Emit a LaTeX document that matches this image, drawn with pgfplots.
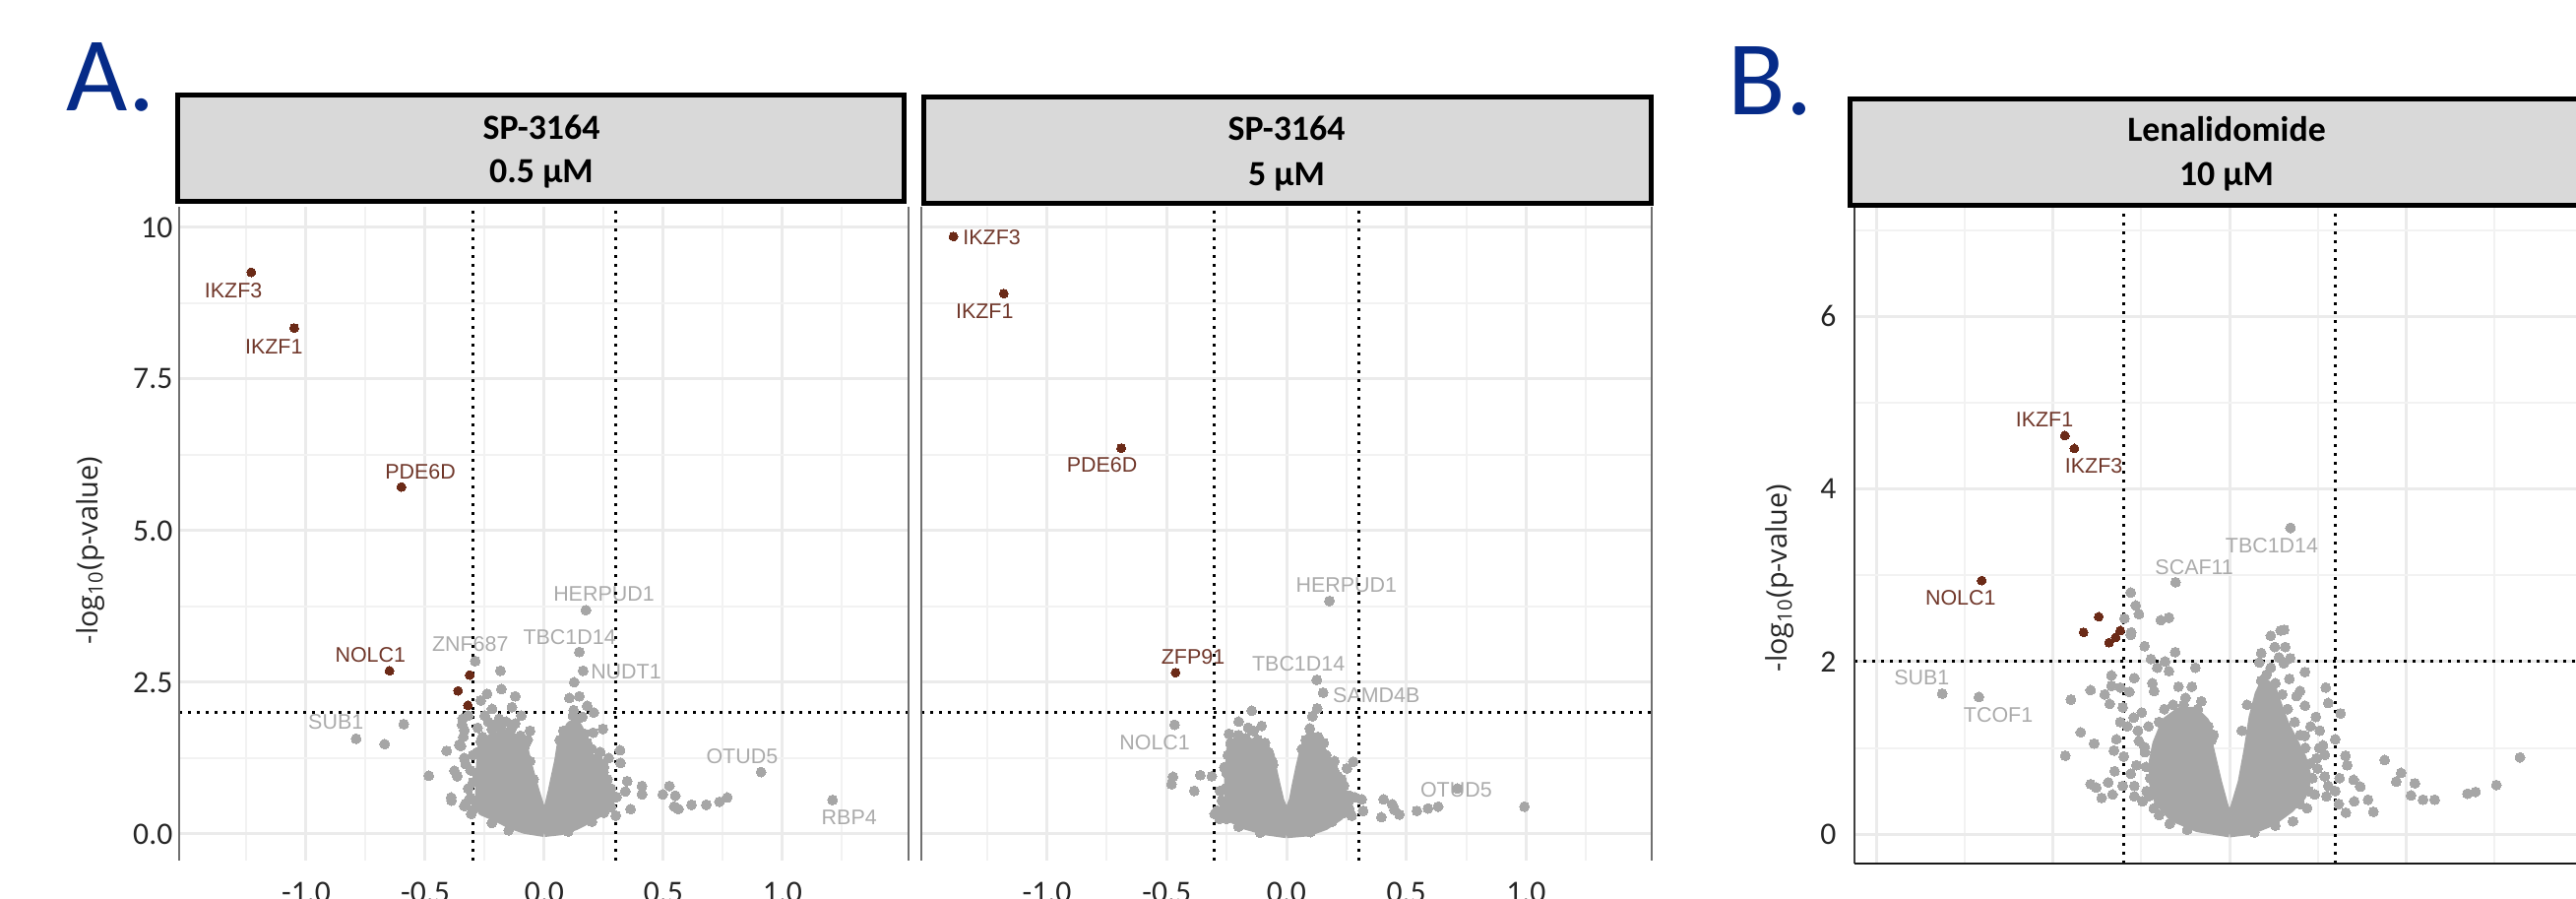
\documentclass[border=0pt]{standalone}
\usepackage{fontspec}
\setmainfont{Carlito}
\newfontfamily\arialf{Liberation Sans}
\newfontfamily\opensans{Open Sans}
\usepackage{pgfplots}
\pgfplotsset{compat=1.18}
\definecolor{ptgray}{HTML}{A6A6A6}
\definecolor{ptbrown}{HTML}{6B2A17}
\definecolor{lbbrown}{HTML}{70372A}
\definecolor{lbgray}{HTML}{ABABAB}
\definecolor{gridmaj}{HTML}{EBEBEB}
\definecolor{gridmin}{HTML}{F2F2F2}
\definecolor{hdrgray}{HTML}{D9D9D9}
\definecolor{letterblue}{HTML}{062B88}
\definecolor{bordergray}{HTML}{707070}
\tikzset{
 dotl/.style={black, line width=0.3mm, dash pattern=on 0.3mm off 0.6mm},
 lb/.style={font=\arialf\fontsize{6.1}{7}\selectfont, text=lbbrown, inner sep=0pt},
 lg/.style={font=\arialf\fontsize{6.1}{7}\selectfont, text=lbgray, inner sep=0pt},
}
\pgfplotsset{
 volc/.style={scale only axis, axis line style={draw=none}, major tick length=0pt, minor tick length=0pt,
   grid=both, major grid style={line width=0.3mm, gridmaj}, minor grid style={line width=0.2mm, gridmin},
   xtick={-1,-0.5,0,0.5,1}, xticklabels={-1.0,-0.5,0.0,0.5,1.0},
   minor xtick={-1.25,-0.75,-0.25,0.25,0.75,1.25},
   ticklabel style={font=\fontsize{9}{10}\selectfont, text=black!85, inner sep=0pt},
   xticklabel style={anchor=north, yshift=-2.1mm},
   yticklabel style={anchor=east, xshift=-0.6mm},
   clip=false, /pgf/number format/assume math mode=true},
 gmark/.style={only marks, color=ptgray, mark=*, mark size=0.5mm, mark options={solid, fill=ptgray, draw=ptgray, line width=0pt}},
 bmark/.style={only marks, color=ptbrown, mark=*, mark size=0.45mm, mark options={solid, fill=ptbrown, draw=ptbrown, line width=0pt}},
 core/.style={fill=ptgray, draw=ptgray, line width=1mm, line join=round, mark=none},
}
\begin{document}
\begin{tikzpicture}
\path[use as bounding box] (0,0) rectangle (261.7mm,91.3mm);
\clip (0,0) rectangle (261.7mm,91.3mm);

% ---------------- Panel 1 ----------------
\begin{axis}[volc, at={(18.2mm,3.9mm)}, anchor=south west, width=74.1mm, height=66.4mm,
  xmin=-1.533, xmax=1.529, ymin=-0.44, ymax=10.34,
  ytick={0,2.5,5,7.5,10}, yticklabels={0.0,2.5,5.0,7.5,10}, minor ytick={1.25,3.75,6.25,8.75}]
\addplot[core] coordinates {(0,0.03) (-0.08,0.08) (-0.14,0.16) (-0.2,0.28) (-0.26,0.38) (-0.27,0.6) (-0.27,0.9) (-0.265,1.2) (-0.255,1.45) (-0.22,1.58) (-0.18,1.62) (-0.14,1.6) (-0.11,1.55) (-0.09,1.45) (-0.075,1.2) (-0.06,0.98) (-0.04,0.7) (-0.02,0.45) (0,0.32) (0.02,0.45) (0.035,0.7) (0.05,0.98) (0.062,1.2) (0.072,1.45) (0.09,1.6) (0.11,1.78) (0.13,1.82) (0.145,1.72) (0.158,1.5) (0.185,1.3) (0.21,1.1) (0.23,0.95) (0.255,0.75) (0.26,0.55) (0.24,0.38) (0.19,0.26) (0.13,0.14) (0.07,0.06) (0,0.03)};
\addplot[gmark] coordinates {(-0.79,1.57) (-0.59,1.81) (-0.67,1.48) (-0.485,0.96) (-0.41,1.37) (-0.391,0.60) (-0.377,1.04) (-0.357,1.47) (-0.343,1.90) (-0.336,1.71) (-0.336,1.25) (-0.336,0.46) (-0.307,0.33) (-0.30,0.85) (-0.29,2.85) (-0.184,2.69) (-0.18,2.39) (-0.122,2.27) (-0.24,2.31) (-0.267,2.20) (-0.136,2.09) (-0.219,2.06) (-0.097,1.95) (-0.19,1.90) (-0.122,1.82) (-0.267,1.52) (-0.081,1.46) (-0.28,1.75) (-0.25,1.95) (-0.345,1.80) (-0.34,1.60) (-0.35,1.45) (-0.33,1.15) (-0.365,0.95) (-0.32,0.75) (-0.39,0.55) (-0.33,0.5) (-0.30,1.30) (-0.31,1.05) (-0.16,1.85) (-0.06,1.7)
 (-0.29,0.55) (-0.285,1.0) (-0.28,1.35) (-0.26,1.6) (-0.22,1.72) (-0.18,1.75) (-0.14,1.72) (-0.1,1.62) (-0.2,1.82) (-0.235,1.85) (-0.06,1.2) (-0.045,0.9) (-0.3,0.4) (-0.22,0.18) (-0.15,0.06) (-0.07,1.55) (-0.32,1.95) (-0.31,0.6)
 (0.175,3.69) (0.147,3.0) (0.163,2.69) (0.125,2.50) (0.105,2.24) (0.147,2.27) (0.18,2.11) (0.208,2.0) (0.123,2.04) (0.16,1.93) (0.098,1.68) (0.205,1.67) (0.246,1.73) (0.18,1.50) (0.235,1.35) (0.318,1.38) (0.32,1.17) (0.236,1.17) (0.19,1.17) (0.249,1.02) (0.232,0.87) (0.348,0.87) (0.41,0.79) (0.27,0.71) (0.34,0.70) (0.41,0.65) (0.525,0.79) (0.497,0.65) (0.55,0.63) (0.545,0.45) (0.563,0.41) (0.618,0.48) (0.68,0.48) (0.735,0.53) (0.768,0.60) (0.362,0.41) (0.303,0.61) (0.28,0.44) (0.91,1.02) (1.21,0.56) (0.30,0.30) (0.27,1.25)
 (0.12,1.95) (0.14,1.9) (0.17,1.65) (0.2,1.4) (0.22,1.25) (0.25,1.1) (0.265,0.9) (0.28,0.75) (0.275,0.55) (0.25,0.35) (0.2,0.2) (0.1,0.04) (0.065,1.55) (0.08,1.7)};
\addplot[bmark] coordinates {(-1.23,9.26) (-1.05,8.34) (-0.60,5.72) (-0.65,2.69) (-0.313,2.62) (-0.362,2.36) (-0.321,2.12)};
\node[lb] at (axis cs:-1.305,8.96) {IKZF3};
\node[lb] at (axis cs:-1.135,8.04) {IKZF1};
\node[lb] at (axis cs:-0.52,5.97) {PDE6D};
\node[lb] at (axis cs:-0.73,2.95) {NOLC1};
\node[lg] at (axis cs:-0.311,3.13) {ZNF687};
\node[lg] at (axis cs:0.25,3.96) {HERPUD1};
\node[lg] at (axis cs:0.106,3.24) {TBC1D14};
\node[lg] at (axis cs:0.343,2.68) {NUDT1};
\node[lg] at (axis cs:-0.875,1.84) {SUB1};
\node[lg] at (axis cs:0.83,1.28) {OTUD5};
\node[lg] at (axis cs:1.28,0.27) {RBP4};
\draw[dotl] (axis cs:-0.3,-0.44) -- (axis cs:-0.3,10.34);
\draw[dotl] (axis cs:0.3,-0.44) -- (axis cs:0.3,10.34);
\draw[dotl] (axis cs:-1.533,2) -- (axis cs:1.529,2);
\draw[bordergray, line width=0.25mm] (rel axis cs:0,0) -- (rel axis cs:0,1);
\draw[bordergray, line width=0.25mm] (rel axis cs:1,0) -- (rel axis cs:1,1);
\end{axis}

% ---------------- Panel 2 ----------------
\begin{axis}[volc, at={(93.6mm,3.9mm)}, anchor=south west, width=74.2mm, height=66.4mm,
  xmin=-1.524, xmax=1.524, ymin=-0.44, ymax=10.34,
  ytick={0,2.5,5,7.5,10}, yticklabels={}, minor ytick={1.25,3.75,6.25,8.75}]
\addplot[core] coordinates {(0,0.01) (-0.09,0.06) (-0.18,0.16) (-0.23,0.27) (-0.265,0.36) (-0.24,0.55) (-0.24,0.9) (-0.235,1.2) (-0.23,1.4) (-0.19,1.48) (-0.14,1.5) (-0.1,1.45) (-0.07,1.3) (-0.062,1.1) (-0.045,0.8) (-0.03,0.55) (0,0.25) (0.03,0.55) (0.042,0.8) (0.058,1.1) (0.07,1.3) (0.09,1.48) (0.12,1.52) (0.14,1.45) (0.15,1.25) (0.17,1.05) (0.2,0.85) (0.235,0.68) (0.25,0.5) (0.22,0.3) (0.16,0.14) (0.09,0.04) (0,0.01)};
\addplot[gmark] coordinates {(0.179,3.84) (0.126,2.54) (0.153,2.33) (0.128,2.07) (0.108,1.94) (0.097,1.74) (-0.145,2.03) (-0.2,1.85) (-0.104,1.78) (-0.138,1.70) (-0.234,1.49) (-0.24,1.65) (-0.193,1.57) (-0.2,1.63) (-0.467,1.80) (-0.474,0.94) (-0.48,0.82) (-0.36,0.97) (-0.385,0.71) (-0.312,0.95) (-0.278,0.71) (-0.289,0.385) (-0.27,0.55) (-0.26,1.1) (-0.056,1.14) (0.136,1.57) (0.143,1.44) (0.163,1.30) (0.19,1.08) (0.204,0.98) (0.279,1.19) (0.252,1.08) (0.197,1.06) (0.218,0.71) (0.262,0.63) (0.286,0.60) (0.314,0.57) (0.32,0.38) (0.272,0.30) (0.262,0.41) (0.405,0.57) (0.441,0.49) (0.45,0.40) (0.471,0.32) (0.396,0.275) (0.544,0.38) (0.59,0.42) (0.633,0.45) (0.713,0.75) (0.993,0.45) (-0.25,0.25) (-0.3,0.33)
 (-0.26,0.45) (-0.255,0.75) (-0.25,1.0) (-0.245,1.3) (-0.22,1.5) (-0.17,1.58) (-0.12,1.55) (-0.09,1.5) (-0.075,1.35) (-0.06,1.2) (-0.28,0.25) (-0.2,0.12) (-0.11,0.02) (0.08,1.55) (0.1,1.62) (0.13,1.6) (0.155,1.5) (0.165,1.3) (0.185,1.15) (0.215,0.95) (0.24,0.8) (0.26,0.55) (0.24,0.35) (0.19,0.2) (0.1,0.03) (0.065,1.4) (-0.16,1.75) (0.2,1.2) (0.23,0.9)};
\addplot[bmark] coordinates {(-1.39,9.85) (-1.18,8.91) (-0.69,6.36) (-0.463,2.66)};
\node[lb] at (axis cs:-1.23,9.84) {IKZF3};
\node[lb] at (axis cs:-1.26,8.62) {IKZF1};
\node[lb] at (axis cs:-0.77,6.08) {PDE6D};
\node[lb] at (axis cs:-0.39,2.92) {ZFP91};
\node[lg] at (axis cs:0.25,4.10) {HERPUD1};
\node[lg] at (axis cs:0.05,2.81) {TBC1D14};
\node[lg] at (axis cs:0.375,2.29) {SAMD4B};
\node[lg] at (axis cs:-0.55,1.51) {NOLC1};
\node[lg] at (axis cs:0.708,0.72) {OTUD5};
\draw[dotl] (axis cs:-0.3,-0.44) -- (axis cs:-0.3,10.34);
\draw[dotl] (axis cs:0.3,-0.44) -- (axis cs:0.3,10.34);
\draw[dotl] (axis cs:-1.524,2) -- (axis cs:1.524,2);
\draw[bordergray, line width=0.25mm] (rel axis cs:0,0) -- (rel axis cs:0,1);
\draw[bordergray, line width=0.25mm] (rel axis cs:1,0) -- (rel axis cs:1,1);
\end{axis}

% ---------------- Panel 3 ----------------
\begin{axis}[volc, at={(188.4mm,3.6mm)}, anchor=south west, width=76.2mm, height=66.6mm,
  xmin=-1.064, xmax=1.064, ymin=-0.34, ymax=7.26,
  ytick={0,2,4,6}, yticklabels={0,2,4,6}, minor ytick={1,3,5,7},
  minor xtick={-0.75,-0.25,0.25,0.75},
  xticklabel style={anchor=north, yshift=-2.0mm},
  yticklabel style={anchor=east, xshift=-1.2mm}]
\addplot[core] coordinates {(0,0.02) (-0.09,0.08) (-0.16,0.2) (-0.2,0.38) (-0.215,0.6) (-0.215,0.85) (-0.205,1.05) (-0.18,1.3) (-0.14,1.42) (-0.1,1.42) (-0.07,1.3) (-0.058,1.0) (-0.035,0.6) (-0.015,0.3) (0,0.2) (0.015,0.3) (0.037,0.6) (0.055,1.0) (0.068,1.35) (0.085,1.62) (0.1,1.75) (0.12,1.68) (0.137,1.48) (0.155,1.28) (0.18,1.08) (0.205,0.88) (0.22,0.65) (0.205,0.45) (0.17,0.3) (0.12,0.15) (0.06,0.05) (0,0.02)};
\addplot[gmark] coordinates {(0.173,3.55) (-0.153,2.92) (-0.815,1.63) (-0.711,1.59) (-0.28,2.80) (-0.266,2.65) (-0.257,2.55) (-0.298,2.50) (-0.279,2.34) (-0.28,2.31) (-0.195,2.48) (-0.172,2.51) (-0.241,2.18) (-0.223,2.03) (-0.183,2.0) (-0.154,2.11) (-0.205,1.93) (-0.172,1.89) (-0.097,1.93) (-0.335,1.84) (-0.27,1.81) (-0.335,1.72) (-0.394,1.67) (-0.354,1.62) (-0.31,1.70) (-0.284,1.65) (-0.34,1.51) (-0.45,1.56) (-0.219,1.75) (-0.214,1.66) (-0.145,1.71) (-0.107,1.71) (-0.08,1.54) (-0.303,1.47) (-0.249,1.41) (-0.272,1.35) (-0.422,1.18) (-0.384,1.05) (-0.321,1.10) (-0.328,0.97) (-0.257,1.08) (-0.241,1.01) (-0.195,1.11) (-0.051,1.09) (-0.466,0.91) (-0.326,0.73) (-0.264,0.80) (-0.237,0.78) (-0.394,0.58) (-0.378,0.54) (-0.363,0.42) (-0.344,0.60) (-0.332,0.46) (-0.303,0.56) (-0.27,0.56) (-0.27,0.44) (-0.247,0.38) (-0.228,0.44)
 (-0.23,1.25) (-0.24,0.95) (-0.225,0.65) (-0.235,0.5) (-0.26,1.2) (-0.29,1.25) (-0.2,1.3) (-0.185,1.45) (-0.16,1.5) (-0.13,1.5) (-0.125,1.58) (-0.09,1.45) (-0.06,1.25) (-0.045,1.15) (-0.215,0.3) (-0.2,0.22) (-0.17,0.12) (-0.12,0.05) (-0.28,0.7) (-0.3,0.9) (-0.31,1.3)
 (0.155,2.37) (0.145,2.36) (0.117,2.30) (0.128,2.17) (0.158,2.17) (0.172,2.04) (0.154,1.98) (0.084,1.99) (0.117,1.93) (0.214,1.88) (0.17,1.80) (0.2,1.66) (0.273,1.70) (0.28,1.52) (0.315,1.40) (0.245,1.36) (0.214,1.49) (0.256,1.20) (0.214,1.14) (0.265,1.03) (0.27,0.92) (0.329,0.91) (0.334,0.80) (0.247,0.88) (0.25,0.76) (0.27,0.67) (0.312,0.65) (0.28,0.56) (0.275,0.44) (0.242,0.46) (0.352,0.63) (0.371,0.55) (0.354,0.38) (0.393,0.40) (0.408,0.26) (0.44,0.86) (0.487,0.71) (0.473,0.61) (0.526,0.59) (0.515,0.45) (0.549,0.40) (0.582,0.40) (0.675,0.47) (0.698,0.49) (0.757,0.57) (0.824,0.89) (0.22,0.3) (0.18,0.15)
 (0.09,1.78) (0.105,1.85) (0.13,1.75) (0.15,1.62) (0.165,1.45) (0.185,1.3) (0.2,1.15) (0.215,1.0) (0.228,0.82) (0.235,0.65) (0.225,0.5) (0.2,0.35) (0.13,0.1) (0.07,0.02) (0.09,2.1) (0.14,2.05) (0.19,1.6) (0.23,1.25) (0.255,1.0) (0.3,1.1) (0.3,0.5) (0.31,0.35) (0.33,0.25) (0.05,1.5) (0.035,1.2)};
\addplot[bmark] coordinates {(-0.467,4.62) (-0.44,4.47) (-0.703,2.94) (-0.371,2.52) (-0.414,2.34) (-0.342,2.22) (-0.323,2.28) (-0.31,2.36)};
\node[lb] at (axis cs:-0.525,4.80) {IKZF1};
\node[lb] at (axis cs:-0.385,4.27) {IKZF3};
\node[lb] at (axis cs:-0.763,2.74) {NOLC1};
\node[lg] at (axis cs:-0.873,1.81) {SUB1};
\node[lg] at (axis cs:-0.656,1.38) {TCOF1};
\node[lg] at (axis cs:-0.10,3.09) {SCAF11};
\node[lg] at (axis cs:0.12,3.35) {TBC1D14};
\draw[dotl] (axis cs:-0.3,-0.34) -- (axis cs:-0.3,7.26);
\draw[dotl] (axis cs:0.3,-0.34) -- (axis cs:0.3,7.26);
\draw[dotl] (axis cs:-1.064,2) -- (axis cs:1.064,2);
\draw[black!75, line width=0.25mm] (rel axis cs:0,0) -- (rel axis cs:0,1);
\draw[black!90, line width=0.25mm] (rel axis cs:0,0) -- (rel axis cs:1,0);
\end{axis}

% ---------------- Headers ----------------
\draw[line width=0.5mm, fill=hdrgray] (18.05mm,70.85mm) rectangle (91.85mm,81.65mm);
\node[anchor=base, inner sep=0pt, font=\fontsize{10.2}{12}\selectfont\bfseries] at (55.0mm,77.1mm) {SP-3164};
\node[anchor=base, inner sep=0pt, font=\fontsize{10.2}{12}\selectfont\bfseries] at (55.0mm,72.7mm) {0.5 μM};
\draw[line width=0.5mm, fill=hdrgray] (93.85mm,70.65mm) rectangle (167.75mm,81.45mm);
\node[anchor=base, inner sep=0pt, font=\fontsize{10.2}{12}\selectfont\bfseries] at (130.7mm,77.0mm) {SP-3164};
\node[anchor=base, inner sep=0pt, font=\fontsize{10.2}{12}\selectfont\bfseries] at (130.7mm,72.4mm) {5 μM};
\draw[line width=0.5mm, fill=hdrgray] (187.95mm,70.45mm) rectangle (275mm,81.25mm);
\node[anchor=base, inner sep=0pt, font=\fontsize{10.2}{12}\selectfont\bfseries] at (226.2mm,76.9mm) {Lenalidomide};
\node[anchor=base, inner sep=0pt, font=\fontsize{10.2}{12}\selectfont\bfseries] at (226.2mm,72.4mm) {10 μM};

% ---------------- Letters and y labels ----------------
\node[anchor=base west, inner sep=0pt, text=letterblue, font=\fontsize{30.6}{32}\selectfont] at (6.7mm,80.0mm) {A.};
\node[anchor=base west, inner sep=0pt, text=letterblue, font=\fontsize{30.6}{32}\selectfont] at (175.5mm,79.6mm) {B.};
\node[rotate=90, inner sep=0pt, text=black!85, font=\opensans\fontsize{8.2}{9}\selectfont] at (9.2mm,35.4mm) {-log\textsubscript{10}(p-value)};
\node[rotate=90, inner sep=0pt, text=black!85, font=\opensans\fontsize{8.2}{9}\selectfont] at (180.8mm,32.6mm) {-log\textsubscript{10}(p-value)};
\end{tikzpicture}
\end{document}
